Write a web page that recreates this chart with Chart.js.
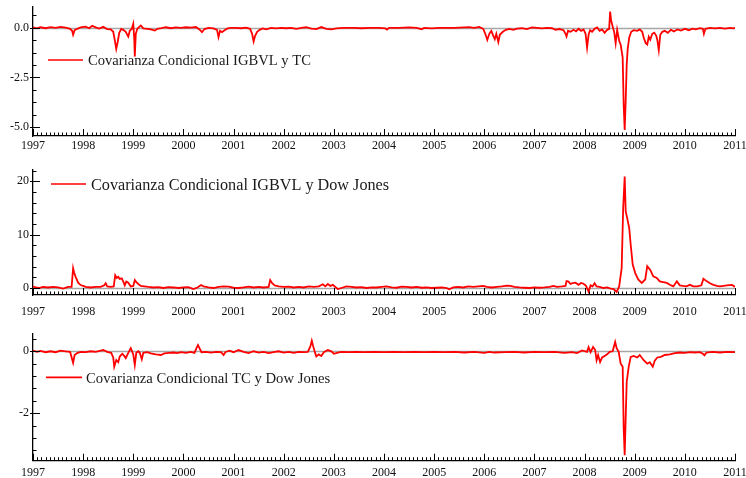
<!DOCTYPE html>
<html><head><meta charset="utf-8">
<script src="https://cdn.jsdelivr.net/npm/chart.js@4.4.1/dist/chart.umd.min.js"></script>
<style>
html,body{margin:0;padding:0;background:#fff;overflow:hidden;width:746px;height:478px}
canvas{position:absolute;left:0;display:block}
</style></head><body>
<canvas id="c1" width="746" height="158" style="top:0px"></canvas>
<canvas id="c2" width="746" height="160" style="top:158px"></canvas>
<canvas id="c3" width="746" height="160" style="top:318px"></canvas>
<script>
// ---------- DATA ----------
const seriesNames = [
  "Covarianza Condicional IGBVL y TC",
  "Covarianza Condicional IGBVL y Dow Jones",
  "Covarianza Condicional TC y Dow Jones"
];
const yearTicks = [1997,1998,1999,2000,2001,2002,2003,2004,2005,2006,2007,2008,2009,2010,2011];
const yTicks1 = [0, -2.5, -5];
const yTicks2 = [0, 10, 20];
const yTicks3 = [0, -2];

const years1 = [1997.00,1997.08,1997.15,1997.25,1997.35,1997.45,1997.55,1997.65,1997.74,1997.78,1997.80,1997.83,1997.88,1997.95,
1998.05,1998.12,1998.18,1998.25,1998.32,1998.40,1998.48,1998.55,1998.60,1998.63,1998.66,1998.69,1998.72,1998.76,1998.80,1998.85,1998.88,1998.90,1998.93,1998.97,
1999.00,1999.02,1999.03,1999.05,1999.08,1999.12,1999.15,1999.20,1999.28,1999.35,1999.43,1999.48,1999.56,1999.65,1999.75,1999.85,1999.95,
2000.05,2000.15,2000.25,2000.32,2000.37,2000.42,2000.50,2000.60,2000.67,2000.70,2000.73,2000.77,2000.82,2000.88,2000.95,
2001.05,2001.15,2001.25,2001.33,2001.37,2001.40,2001.43,2001.47,2001.52,2001.58,2001.65,2001.75,2001.85,2001.95,
2002.05,2002.15,2002.25,2002.35,2002.45,2002.55,2002.65,2002.75,2002.85,2002.95,
2003.05,2003.20,2003.40,2003.55,2003.70,2003.90,
2004.03,2004.06,2004.10,2004.30,2004.50,2004.65,2004.75,2004.80,2004.95,
2005.10,2005.40,2005.70,2005.80,2005.90,2005.98,
2006.02,2006.06,2006.10,2006.14,2006.18,2006.21,2006.24,2006.28,2006.31,2006.37,2006.43,2006.50,2006.58,2006.65,2006.75,2006.85,2006.95,
2007.05,2007.15,2007.25,2007.35,2007.42,2007.50,2007.58,2007.62,2007.64,2007.67,2007.72,2007.78,2007.83,2007.88,2007.93,2007.98,
2008.02,2008.05,2008.08,2008.11,2008.15,2008.20,2008.25,2008.30,2008.35,2008.40,2008.45,2008.49,2008.51,2008.53,2008.56,2008.59,2008.62,2008.65,2008.69,2008.72,2008.76,2008.78,2008.80,2008.82,2008.84,2008.86,2008.89,2008.93,2008.98,
2009.05,2009.10,2009.15,2009.18,2009.22,2009.25,2009.28,2009.31,2009.35,2009.39,2009.43,2009.45,2009.48,2009.51,2009.55,2009.60,2009.66,2009.72,2009.78,2009.85,2009.92,
2010.00,2010.08,2010.15,2010.22,2010.30,2010.36,2010.38,2010.41,2010.50,2010.60,2010.70,2010.80,2010.90,2010.97,2011.00];
const cov1 = [0.02,-0.03,0.03,-0.02,0.04,0.00,0.05,0.01,-0.05,-0.15,-0.35,-0.12,-0.05,0.02,
0.06,-0.02,0.10,0.02,-0.04,0.05,-0.06,-0.08,-0.2,-0.6,-1.06,-0.7,-0.25,-0.05,-0.1,-0.2,-0.35,-0.44,-0.15,-0.05,
0.20,-0.6,-1.45,-0.3,-0.05,0.05,0.12,-0.03,-0.05,-0.08,-0.14,-0.05,-0.02,0.03,-0.02,0.02,0.00,
0.03,0.01,0.04,-0.08,-0.22,-0.06,0.00,-0.03,-0.1,-0.47,-0.15,-0.22,-0.12,-0.03,0.0,
0.0,-0.02,0.01,-0.05,-0.3,-0.69,-0.4,-0.2,-0.1,-0.03,-0.08,0.0,-0.03,0.0,
-0.02,0.0,-0.05,0.0,0.03,-0.04,-0.06,0.04,-0.05,-0.08,
-0.03,0.0,0.0,-0.02,0.0,0.0,
-0.03,-0.09,0.0,0.0,0.02,0.0,-0.07,0.0,-0.03,
0.0,0.0,0.04,0.0,0.05,-0.05,
-0.3,-0.61,-0.3,-0.15,-0.4,-0.57,-0.3,-0.72,-0.35,-0.2,-0.1,-0.05,-0.1,-0.04,-0.02,-0.06,0.02,
0.0,-0.03,0.0,-0.02,-0.1,-0.06,-0.12,-0.3,-0.44,-0.15,-0.2,-0.1,-0.18,-0.05,-0.15,-0.08,
-0.3,-0.99,-0.35,-0.12,-0.2,-0.05,0.02,-0.15,-0.08,-0.25,-0.1,-0.05,0.82,0.37,0.07,-0.2,-0.77,-0.1,-0.65,-0.85,-1.5,-3.89,-5.15,-3.7,-1.87,-1.06,-0.5,-0.2,-0.12,
-0.15,-0.08,-0.2,-0.5,-0.77,-0.84,-0.45,-0.6,-0.3,-0.24,-0.4,-0.6,-1.13,-0.35,-0.2,-0.15,-0.25,-0.1,-0.18,-0.08,-0.14,
-0.05,-0.12,-0.04,-0.08,-0.02,-0.05,-0.3,-0.05,0.0,-0.03,0.0,-0.04,0.0,-0.03,0.0];

const years2 = [1997.00,1997.05,1997.12,1997.20,1997.30,1997.40,1997.50,1997.60,1997.70,1997.77,1997.80,1997.82,1997.85,1997.90,1997.95,
1998.00,1998.05,1998.15,1998.25,1998.35,1998.42,1998.45,1998.48,1998.55,1998.61,1998.64,1998.67,1998.70,1998.73,1998.77,1998.80,1998.83,1998.86,1998.90,1998.95,
1999.00,1999.03,1999.06,1999.10,1999.15,1999.22,1999.30,1999.40,1999.50,1999.60,1999.70,1999.80,1999.90,
2000.00,2000.10,2000.20,2000.28,2000.35,2000.40,2000.50,2000.60,2000.70,2000.80,2000.90,
2001.00,2001.10,2001.20,2001.30,2001.40,2001.50,2001.60,2001.70,2001.73,2001.77,2001.82,2001.90,
2002.00,2002.10,2002.20,2002.30,2002.40,2002.50,2002.60,2002.70,2002.78,2002.83,2002.88,2002.93,2002.98,
2003.03,2003.08,2003.15,2003.25,2003.35,2003.45,2003.55,2003.65,2003.75,2003.85,2003.95,
2004.05,2004.15,2004.25,2004.35,2004.45,2004.55,2004.65,2004.75,2004.85,2004.95,
2005.05,2005.15,2005.25,2005.30,2005.38,2005.48,2005.58,2005.68,2005.78,2005.88,2005.98,
2006.05,2006.15,2006.25,2006.35,2006.45,2006.52,2006.60,2006.70,2006.80,2006.90,
2007.00,2007.10,2007.20,2007.30,2007.38,2007.45,2007.55,2007.62,2007.64,2007.68,2007.72,2007.76,2007.82,2007.88,2007.93,2007.98,
2008.03,2008.08,2008.12,2008.16,2008.20,2008.24,2008.30,2008.38,2008.45,2008.52,2008.58,2008.64,2008.69,2008.74,2008.77,2008.80,2008.82,2008.85,2008.89,2008.92,2008.96,
2009.01,2009.07,2009.14,2009.21,2009.25,2009.31,2009.37,2009.44,2009.50,2009.57,2009.64,2009.70,2009.77,2009.84,2009.90,2009.96,
2010.03,2010.10,2010.17,2010.25,2010.33,2010.37,2010.44,2010.50,2010.57,2010.64,2010.70,2010.77,2010.84,2010.94,2011.00];
const cov2 = [0.3,0.1,0.0,0.2,0.1,0.2,0.1,-0.1,0.2,0.2,3.7,2.9,2.1,1.0,0.55,
0.4,0.2,0.1,0.2,0.2,0.5,0.9,0.3,0.2,0.3,2.4,1.9,2.1,1.7,1.8,1.2,0.5,1.2,1.0,0.3,
0.4,1.5,1.1,0.75,0.4,0.3,0.2,0.1,0.15,0.0,0.15,0.1,0.0,
0.1,0.15,-0.2,0.1,0.55,0.3,0.1,0.0,0.2,0.3,0.25,
0.05,0.0,0.1,0.25,0.1,0.2,0.1,0.2,1.5,0.9,0.5,0.3,
0.2,0.25,0.1,0.2,0.1,0.3,0.2,0.3,0.7,0.3,0.75,0.4,0.6,
0.2,-0.2,0.0,0.3,0.2,0.1,0.15,0.0,0.1,0.1,0.2,
0.3,0.1,0.05,0.25,0.2,0.1,0.2,0.05,0.1,0.0,
0.05,0.1,0.0,-0.25,0.1,0.2,0.1,0.3,0.2,0.3,0.4,
0.2,0.1,0.2,0.3,0.45,0.4,0.2,0.1,0.05,0.0,
0.1,0.05,0.1,0.2,0.4,0.2,0.3,0.4,1.3,1.2,0.75,0.9,1.0,0.6,0.95,0.8,
0.4,-0.7,0.5,0.3,0.9,0.3,0.2,0.0,0.1,-0.1,-0.2,-0.75,0.3,3.75,15.0,20.9,14.4,13.1,11.25,8.1,4.4,
2.8,1.6,0.95,1.6,4.1,3.4,2.2,1.9,1.25,1.1,0.95,0.6,0.3,1.25,0.5,0.4,
0.3,0.6,0.3,0.3,0.5,1.75,1.25,0.9,0.6,0.4,0.3,0.4,0.5,0.6,0.2];

const years3 = [1997.00,1997.08,1997.15,1997.25,1997.35,1997.45,1997.55,1997.65,1997.74,1997.80,1997.83,1997.88,1997.95,
1998.05,1998.15,1998.25,1998.35,1998.40,1998.48,1998.56,1998.60,1998.62,1998.66,1998.70,1998.73,1998.78,1998.82,1998.85,1998.90,1998.95,
1999.00,1999.03,1999.06,1999.10,1999.13,1999.17,1999.20,1999.28,1999.35,1999.45,1999.55,1999.62,1999.72,1999.80,1999.88,1999.95,
2000.05,2000.15,2000.22,2000.26,2000.29,2000.32,2000.36,2000.45,2000.55,2000.65,2000.75,2000.80,2000.84,2000.92,
2001.00,2001.10,2001.20,2001.30,2001.40,2001.50,2001.60,2001.70,2001.80,2001.90,
2002.00,2002.10,2002.20,2002.30,2002.40,2002.48,2002.53,2002.56,2002.59,2002.62,2002.65,2002.70,2002.75,2002.80,2002.88,2002.95,
2003.00,2003.08,2003.15,2003.30,2003.45,2003.60,2003.80,
2004.00,2004.20,2004.40,2004.60,2004.80,2005.00,2005.20,2005.40,2005.60,2005.80,
2006.00,2006.10,2006.20,2006.40,2006.60,2006.80,2007.00,2007.20,2007.40,2007.60,2007.75,2007.85,2007.95,
2008.05,2008.08,2008.12,2008.17,2008.21,2008.24,2008.27,2008.31,2008.35,2008.40,2008.45,2008.50,2008.56,2008.61,2008.64,2008.68,2008.72,2008.76,2008.78,2008.80,2008.82,2008.84,2008.88,2008.92,2008.98,
2009.05,2009.10,2009.18,2009.25,2009.30,2009.36,2009.40,2009.45,2009.52,2009.60,2009.70,2009.80,2009.90,
2010.00,2010.10,2010.20,2010.30,2010.36,2010.39,2010.43,2010.55,2010.70,2010.85,2011.00];
const cov3 = [0.02,-0.02,0.01,-0.03,0.0,-0.03,0.02,0.0,-0.02,-0.37,-0.12,-0.06,-0.02,
-0.03,0.0,-0.02,0.02,0.04,-0.02,-0.05,-0.2,-0.5,-0.28,-0.35,-0.17,-0.08,-0.15,-0.22,-0.05,0.1,
-0.1,-0.44,-0.05,0.0,-0.05,-0.26,-0.05,-0.03,-0.07,-0.1,-0.12,-0.07,-0.05,-0.04,-0.06,-0.03,
-0.05,-0.02,-0.05,0.1,0.2,0.1,-0.03,-0.02,-0.04,-0.02,-0.03,-0.12,-0.02,0.02,
-0.03,0.04,-0.02,-0.06,0.0,-0.04,-0.02,-0.06,-0.03,0.0,
-0.04,-0.02,-0.05,-0.02,-0.03,-0.02,0.15,0.34,0.15,-0.02,-0.17,-0.1,-0.15,-0.03,0.04,0.0,
-0.08,-0.04,-0.02,-0.03,-0.02,-0.03,-0.02,
-0.03,-0.02,-0.03,-0.02,-0.03,-0.02,-0.03,-0.02,-0.04,-0.02,
-0.05,-0.02,-0.04,-0.03,-0.02,-0.04,-0.02,-0.03,-0.02,-0.05,-0.03,-0.06,0.03,
-0.02,0.13,-0.03,0.14,0.05,-0.29,-0.12,-0.35,-0.2,-0.15,-0.1,-0.02,0.0,0.3,0.1,-0.02,-0.4,-0.5,-2.49,-3.35,-2.15,-0.99,-0.5,-0.18,-0.15,
-0.2,-0.12,-0.29,-0.4,-0.35,-0.5,-0.3,-0.2,-0.18,-0.12,-0.1,-0.06,-0.04,
-0.05,-0.03,-0.04,-0.03,-0.08,-0.13,-0.04,-0.02,-0.04,-0.02,-0.03];

// ---------- DRAWING ----------
const SERIF = "'Liberation Serif','Times New Roman',serif";

const deco = {
  id: 'deco',
  beforeDatasetsDraw(chart) {
    const {ctx, chartArea:a, scales:{y}} = chart;
    const y0 = Math.round(y.getPixelForValue(0)) + 0.5;
    ctx.save();
    ctx.strokeStyle = '#a6a6a6';
    ctx.lineWidth = 1.5;
    ctx.beginPath(); ctx.moveTo(a.left, y0); ctx.lineTo(a.right, y0); ctx.stroke();
    ctx.restore();
  },
  afterDatasetsDraw(chart, args, o) {
    const {ctx, chartArea:a, scales:{x, y}} = chart;
    ctx.save();
    ctx.strokeStyle = '#000';
    ctx.lineWidth = 1;
    ctx.beginPath();
    for (let m = 0; m <= 14*12; m++) {
      const v = 1997 + m/12;
      const px = Math.round(x.getPixelForValue(v)) + 0.5;
      const len = (m % 12 === 0) ? 7 : 3.5;
      ctx.moveTo(px, a.bottom); ctx.lineTo(px, a.bottom - len);
    }
    const st = o.yMinor;
    const k0 = Math.ceil(y.min / st), k1 = Math.floor(y.max / st);
    for (let k = k0; k <= k1; k++) {
      const v = k*st;
      const py = Math.round(y.getPixelForValue(v)) + 0.5;
      const major = o.yMajor.some(t => Math.abs(t - v) < 1e-9);
      ctx.moveTo(a.left - (major ? 3 : 0), py); ctx.lineTo(a.left + (major ? 7 : 3.5), py);
    }
    ctx.stroke();
    ctx.strokeStyle = '#ff0000';
    ctx.lineWidth = 1.7;
    ctx.beginPath(); ctx.moveTo(o.lx0, o.ly); ctx.lineTo(o.lx1, o.ly); ctx.stroke();
    ctx.fillStyle = '#1a1a1a';
    ctx.font = o.lsize + 'px ' + SERIF;
    ctx.textBaseline = 'middle';
    ctx.textAlign = 'left';
    ctx.fillText(o.label, o.tx, o.ty);
    ctx.restore();
  }
};

function makePanel(id, xs, ys, cfg) {
  const pts = xs.map((v, i) => ({x: v, y: ys[i]}));
  const canvasH = document.getElementById(id).height;
  new Chart(document.getElementById(id), {
    type: 'line',
    data: {datasets: [{data: pts, borderColor: '#ff0000', borderWidth: 1.8, pointRadius: 0, tension: 0, fill: false}]},
    options: {
      responsive: false, animation: false, events: [],
      layout: {padding: {left: 0, right: 11, top: cfg.top, bottom: 0}},
      plugins: {legend: {display: false}, tooltip: {enabled: false}, deco: cfg.deco},
      scales: {
        x: {
          type: 'linear', min: 1997, max: 2011,
          grid: {display: false, drawTicks: false},
          border: {display: true, color: '#000', width: 1.3},
          ticks: {autoSkip: false, maxRotation: 0, padding: cfg.xPad, color: '#111',
                  font: {family: SERIF, size: 12}, callback: v => String(v)},
          afterBuildTicks: s => { s.ticks = yearTicks.map(v => ({value: v})); },
          afterFit: s => { s.height = canvasH - cfg.bottom; s.paddingLeft = 0; s.paddingRight = 0; }
        },
        y: {
          min: cfg.min, max: cfg.max,
          grid: {display: false, drawTicks: false},
          border: {display: true, color: '#000', width: 1.3},
          ticks: {padding: 4, color: '#111', font: {family: SERIF, size: 12}, callback: cfg.fmt},
          afterBuildTicks: s => { s.ticks = cfg.yt.map(v => ({value: v})); },
          afterFit: s => { s.width = 33; s.paddingTop = 0; s.paddingBottom = 0; }
        }
      }
    },
    plugins: [deco]
  });
}

makePanel('c1', years1, cov1, {
  top: 7, bottom: 136, xPad: 3, min: -5.45, max: 1.05, yt: yTicks1,
  fmt: v => v.toFixed(1),
  deco: {yMinor: 0.625, yMajor: yTicks1, lx0: 48, lx1: 83, ly: 60, tx: 88, ty: 61.5, lsize: 14.6, label: seriesNames[0]}
});
makePanel('c2', years2, cov2, {
  top: 11.3, bottom: 137, xPad: 10, min: -1.31, max: 22.25, yt: yTicks2,
  fmt: v => String(v),
  deco: {yMinor: 2, yMajor: yTicks2, lx0: 51, lx1: 86, ly: 26, tx: 91, ty: 27.5, lsize: 16.2, label: seriesNames[1]}
});
makePanel('c3', years3, cov3, {
  top: 15.3, bottom: 142.7, xPad: 5, min: -3.53, max: 0.58, yt: yTicks3,
  fmt: v => String(v),
  deco: {yMinor: 0.4, yMajor: yTicks3, lx0: 46, lx1: 82, ly: 59.3, tx: 86, ty: 61, lsize: 14.7, label: seriesNames[2]}
});
</script>
</body></html>
